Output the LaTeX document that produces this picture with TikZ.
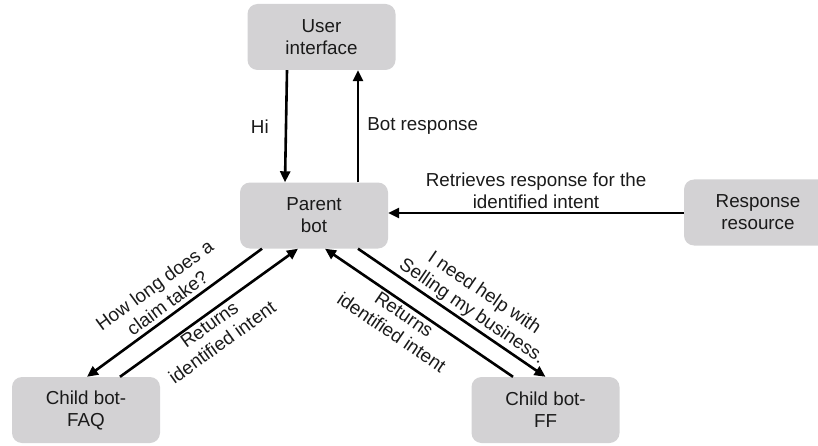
\documentclass[tikz,border=0pt]{standalone}
\usepackage{fontspec}
\setmainfont{Liberation Sans}
\usepackage{xcolor}
\usepackage{tikz}
\usetikzlibrary{arrows.meta}
\usetikzlibrary{positioning,calc}
\definecolor{grigio}{RGB}{211,210,212}
\definecolor{testo}{RGB}{26,26,26}
\tikzset{%
  blocco/.style={%
    fill=grigio, rounded corners=10pt,
    minimum width=148pt, minimum height=66pt,
    align=center, inner sep=0pt, text=testo
  },
  linea/.style={-{Triangle[length=11pt,width=10pt]}, line width=2.6pt},
  etichetta/.style={align=center, inner sep=2pt, text=testo}
}

\begin{document}
\begin{tikzpicture}[x=1pt,y=1pt,font=\fontsize{18.8}{22}\selectfont]
\useasboundingbox (0,0) rectangle (818,445);

\node[blocco] (ui)     at (321.5,408) {User\\interface};
\node[blocco] (parent) at (314,229.5) {Parent\\bot};
\node[blocco] (resp)   at (758,232.5) {Response\\resource};
\node[blocco] (faq)    at (86,35)     {Child bot-\\FAQ};
\node[blocco] (ff)     at (545.5,35)  {Child bot-\\FF};

% user interface <-> parent
\draw[linea] ([xshift=-34.5pt]ui.south) -- node[etichetta,left=14pt] {Hi}
  ([xshift=-29pt]parent.north);
\draw[linea] ([xshift=44pt]parent.north) -- node[etichetta,right=6pt] {Bot response}
  ([xshift=36.5pt]ui.south);

% response resource
\draw[linea] ([yshift=-0.5pt]resp.west) -- node[etichetta,above=1pt]
  {Retrieves response for the\\identified intent} ([yshift=2.5pt]parent.east);

% child bots
\draw[linea] ([xshift=-52pt]parent.south) -- node[etichetta,sloped,above=2pt]
  {How long does a\\claim take?} ([xshift=1pt]faq.north);
\draw[linea] ([xshift=34pt]faq.north) -- node[etichetta,sloped,below=0pt,pos=0.47]
  {Returns\\identified intent} ([xshift=-16pt]parent.south);
\draw[linea] ([xshift=44pt]parent.south) -- node[etichetta,sloped,above=0pt,pos=0.57]
  {I need help with\\Selling my business.} (ff.north);
\draw[linea] ([xshift=-32.5pt]ff.north) -- node[etichetta,sloped,below=0pt,pos=0.55]
  {Returns\\identified intent} ([xshift=11pt]parent.south);
\end{tikzpicture}
\end{document}
